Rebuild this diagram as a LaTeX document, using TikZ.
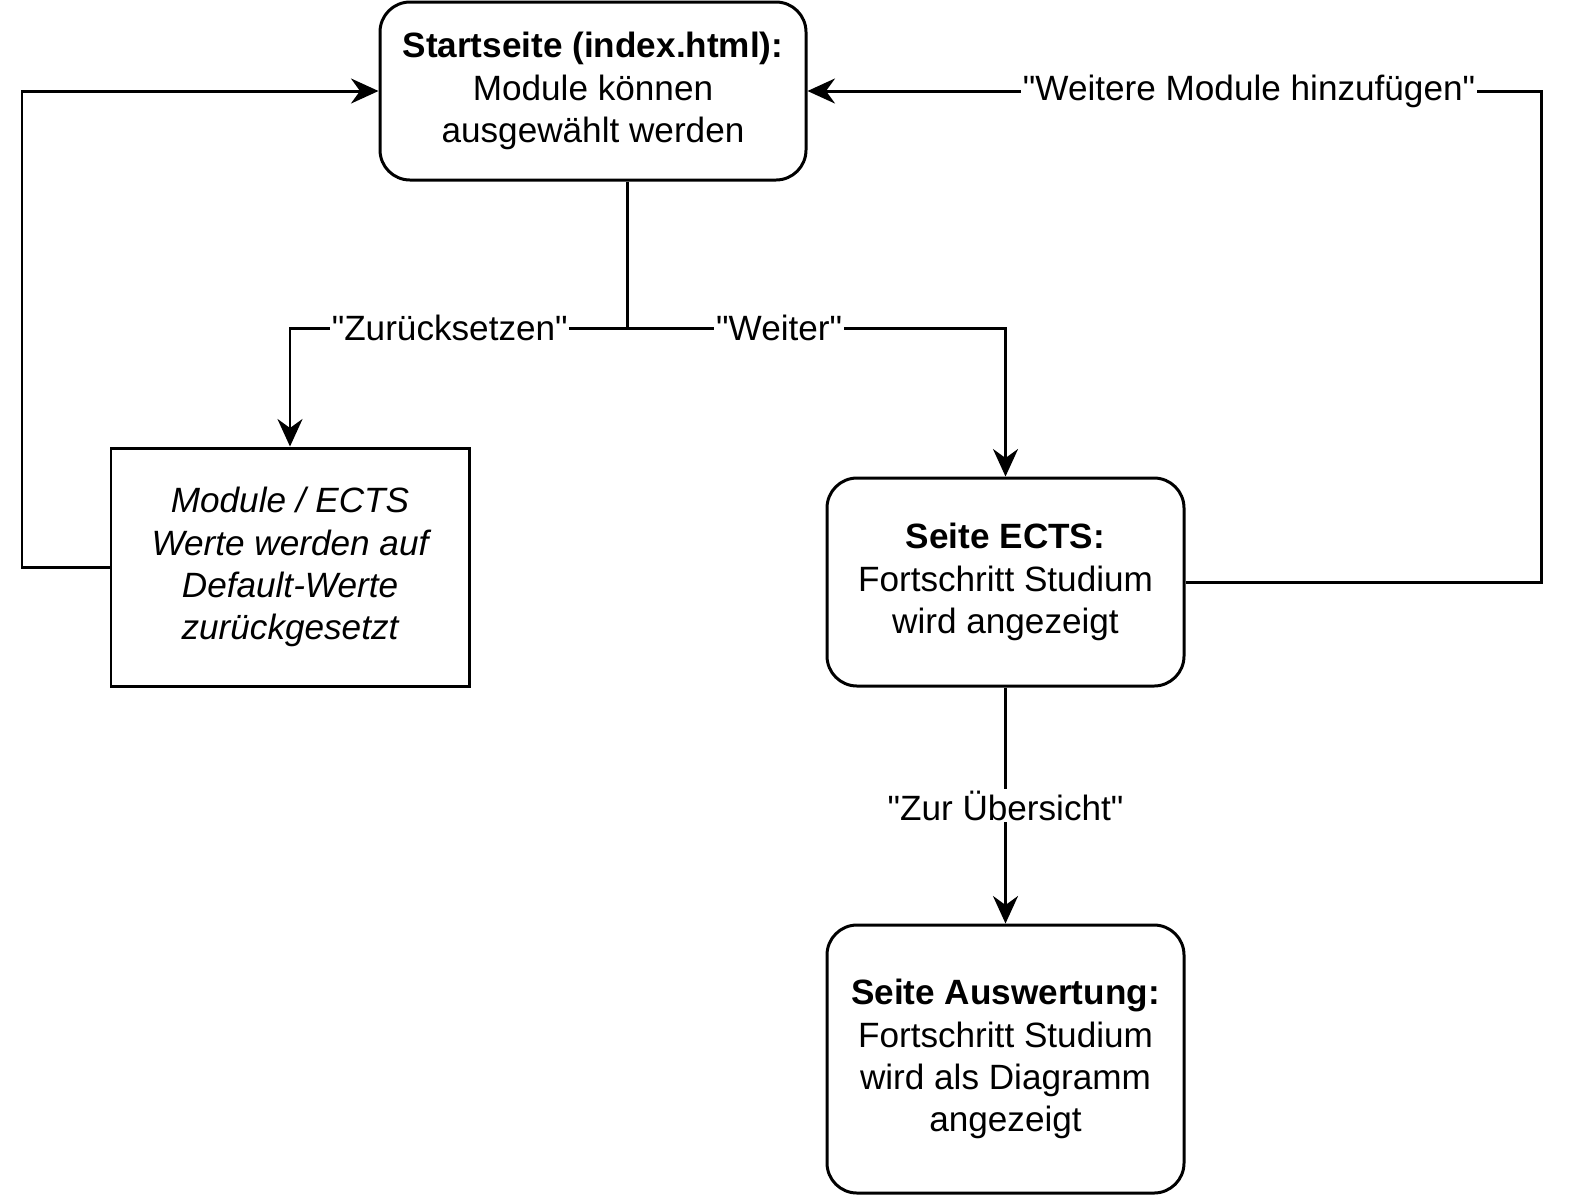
\documentclass[tikz,border=0pt]{standalone}
\usepackage{fontspec}
\setmainfont{Liberation Sans}
\usetikzlibrary{arrows.meta}

\newcommand{\qt}[1]{\textquotedbl#1\textquotedbl}

\tikzset{
	page/.style={draw, line width=1.7pt, rounded corners=0.6cm, align=center, inner sep=0pt},
	action/.style={draw, line width=1.7pt, align=center, inner sep=0pt, font=\itshape\fontsize{20}{24}\selectfont},
	link/.style={line width=1.7pt, -{Stealth[length=0.55cm, width=0.5cm, inset=0.18cm]}},
	lbl/.style={fill=white, inner sep=1pt, font=\fontsize{20}{24}\selectfont}
}

\begin{document}
\begin{tikzpicture}[font=\fontsize{20}{24}\selectfont]
	\useasboundingbox (0,0) rectangle (31.56,-24.06);

	\node[page, minimum width=8.52cm, minimum height=3.56cm] (start) at (11.86,-1.82) {\textbf{Startseite (index.html):}\\Module können\\ausgewählt werden};
	\node[action, minimum width=7.16cm, minimum height=4.76cm] (reset) at (5.80,-11.34) {Module / ECTS\\Werte werden auf\\Default-Werte\\zurückgesetzt};
	\node[page, minimum width=7.14cm, minimum height=4.16cm] (ects) at (20.11,-11.64) {\textbf{Seite ECTS:}\\Fortschritt Studium\\wird angezeigt};
	\node[page, minimum width=7.14cm, minimum height=5.36cm] (ausw) at (20.11,-21.18) {\textbf{Seite Auswertung:}\\Fortschritt Studium\\wird als Diagramm\\angezeigt};

	\coordinate (split) at (12.54,-6.56);
	\coordinate (lft) at (0.44,-11.34);
	\coordinate (rgt) at (30.82,-11.64);

	\draw[line width=1.7pt] (start.south -| split) -- (split);
	\draw[link] (split) -| node[lbl, pos=0.263] {\qt{Zurücksetzen}} (reset);
	\draw[link] (split) -| node[lbl, pos=0.201] {\qt{Weiter}} (ects);
	\draw[link] (reset.west) -- (lft) |- (start.west);
	\draw[link] (ects.east) -- (rgt) |- node[lbl, pos=0.699] {\qt{Weitere Module hinzufügen}} (start.east);
	\draw[link] (ects) -- node[lbl] {\qt{Zur Übersicht}} (ausw);
\end{tikzpicture}
\end{document}
